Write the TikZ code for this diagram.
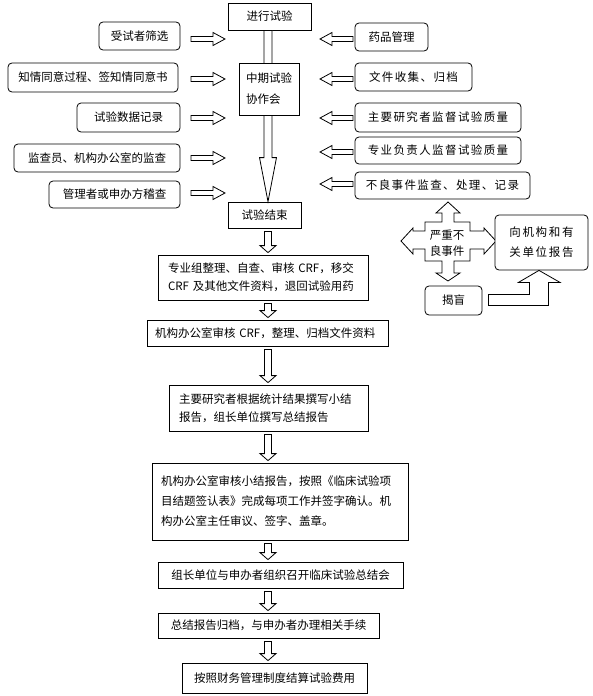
\documentclass[tikz,border=0pt]{standalone}
\usepackage{fontspec}
\setmainfont{Noto Sans CJK SC}
\newfontfamily\widefont[LetterSpace=12]{Noto Sans CJK SC}
\newfontfamily\widerfont[LetterSpace=15]{Noto Sans CJK SC}
\usetikzlibrary{calc}
\tikzset{
  sqbox/.style={draw, line width=0.8pt, fill=white, inner sep=0pt, align=center},
  rbox/.style={draw, line width=0.8pt, fill=white, rounded corners=4pt, inner sep=0pt, align=center},
  blk/.style={draw, line width=0.8pt, fill=white, line join=miter},
  lbox/.style={sqbox, align=left},
  widetext/.style={font=\widefont\fontsize{11.5}{18}\selectfont},
}
\newcommand{\downarr}[2]{%
  \draw[blk] let \p1=(#1.south), \p2=(#2.north), \p3=(colC) in
   (\x3-3.5pt,\y1-3pt) -- (\x3+3.5pt,\y1-3pt) -- (\x3+3.5pt,\y2+9pt) -- (\x3+8pt,\y2+9pt)
   -- (\x3,\y2+2pt) -- (\x3-8pt,\y2+9pt) -- (\x3-3.5pt,\y2+9pt) -- cycle;}
\newcommand{\rarr}[2]{%
  \draw[blk] let \p1=(#1.east), \p2=(colL) in
   (\x2-34pt,\y1-#2pt+2.5pt) -- (\x2-12pt,\y1-#2pt+2.5pt) -- (\x2-12pt,\y1-#2pt+6.5pt)
   -- (\x2,\y1-#2pt) -- (\x2-12pt,\y1-#2pt-6.5pt) -- (\x2-12pt,\y1-#2pt-2.5pt)
   -- (\x2-34pt,\y1-#2pt-2.5pt) -- cycle;}
\newcommand{\larr}[2]{%
  \draw[blk] let \p1=(#1.west), \p2=(colR) in
   (\x2+33pt,\y1-#2pt+2.5pt) -- (\x2+12pt,\y1-#2pt+2.5pt) -- (\x2+12pt,\y1-#2pt+6.5pt)
   -- (\x2,\y1-#2pt) -- (\x2+12pt,\y1-#2pt-6.5pt) -- (\x2+12pt,\y1-#2pt-2.5pt)
   -- (\x2+33pt,\y1-#2pt-2.5pt) -- cycle;}
\begin{document}
\begin{tikzpicture}[x=1pt,y=-1pt,font=\fontsize{11.5}{18}\selectfont]
\useasboundingbox (0,0) rectangle (593,696);
\coordinate (colC) at (268,0);
\coordinate (colL) at (225,0);
\coordinate (colR) at (320,0);

% central column
\node[sqbox, minimum width=83pt, minimum height=27pt] (start) at (269.5,16.5) {进行试验};
\node[sqbox, minimum width=73pt, minimum height=26pt] (end) at (264.5,215) {试验结束};
% big arrow
\draw[blk] let \p1=(start.south), \p2=(end.north), \p3=(colC) in
  (\x3-4pt,\y1) -- (\x3+4pt,\y1) -- (\x3+4pt,\y2+44pt) -- (\x3+8.5pt,\y2+44pt)
  -- (\x3,\y2) -- (\x3-8.5pt,\y2+44pt) -- (\x3-4pt,\y2+44pt) -- cycle;
\node[lbox, text width=46pt, inner xsep=7pt, minimum height=52pt,
      font=\fontsize{11.5}{21}\selectfont] (mid) at (269,89) {中期试验\\协作会};

% left boxes
\node[rbox, minimum width=81pt, minimum height=28pt] (L1) at (139.5,36) {受试者筛选};
\node[rbox, minimum width=170pt, minimum height=29pt] (L2) at (93,77.5) {知情同意过程、签知情同意书};
\node[rbox, minimum width=103pt, minimum height=29pt] (L3) at (128.5,117.5) {试验数据记录};
\node[rbox, minimum width=166pt, minimum height=28pt] (L4) at (97,158) {监查员、机构办公室的监查};
\node[rbox, minimum width=131pt, minimum height=27pt] (L5) at (114.5,194.5) {管理者或申办方稽查};
\rarr{L1}{3}
\rarr{L2}{1.5}
\rarr{L3}{0.5}
\rarr{L4}{0}
\rarr{L5}{-1.5}

% right boxes
\node[rbox, minimum width=73pt, minimum height=28pt] (R1) at (391.5,37) {药品管理};
\node[rbox, widetext, minimum width=117pt, minimum height=28pt] (R2) at (413.5,77) {文件收集、归档};
\node[rbox, widetext, minimum width=166pt, minimum height=29pt] (R3) at (438,117.5) {主要研究者监督试验质量};
\node[rbox, widetext, minimum width=166pt, minimum height=27pt] (R4) at (438,150.5) {专业负责人监督试验质量};
\node[rbox, widetext, minimum width=175pt, minimum height=27pt] (R5) at (442.5,185.5) {不良事件监查、处理、记录};
\larr{R1}{2}
\larr{R2}{2}
\larr{R3}{0.5}
\larr{R4}{1.5}
\larr{R5}{-1.5}

% serious adverse event cross arrow
\draw[blk] (448,202) -- (460,213) -- (454,213) -- (454,222) -- (470,222) -- (470,231)
  -- (484,231) -- (484,228) -- (496,241) -- (484,254) -- (484,249) -- (470,249)
  -- (470,261) -- (454,261) -- (454,273) -- (460,273) -- (448,281) -- (436,273)
  -- (442,273) -- (442,261) -- (425,261) -- (425,249) -- (413,249) -- (413,254)
  -- (401,241) -- (413,228) -- (413,231) -- (425,231) -- (425,222) -- (442,222)
  -- (442,213) -- (436,213) -- cycle;
\node[align=center, inner sep=0pt, font=\fontsize{11.5}{16}\selectfont] (sev) at (447,243) {严重不\\良事件};
\node[rbox, minimum width=93pt, minimum height=55pt, font=\widerfont\fontsize{11.5}{20}\selectfont] (rep) at (541.5,242.5) {向机构和有\\关单位报告};
\node[rbox, minimum width=57pt, minimum height=29pt] (jm) at (453.5,300.5) {揭盲};
\draw[blk] let \p1=(jm.east), \p2=(rep.south) in
  (\x1+6pt,\y1+6pt) -- (\x2-12pt,\y1+6pt) -- (\x2-12pt,\y2-12pt) -- (\x2-23pt,\y2-12pt)
  -- (\x2-2.5pt,\y2) -- (\x2+18.5pt,\y2-12pt) -- (\x2+7pt,\y2-12pt) -- (\x2+7pt,\y1-5pt)
  -- (\x1+6pt,\y1-5pt) -- cycle;

% lower column
\node[lbox, text width=190pt, inner xsep=10pt, minimum height=45pt] (b1) at (263,277.5)
  {专业组整理、自查、审核 CRF，移交\\CRF 及其他文件资料，退回试验用药};
\node[lbox, text width=225pt, inner xsep=8pt, minimum height=26pt] (b2) at (267.5,333)
  {机构办公室审核 CRF，整理、归档文件资料};
\node[lbox, text width=179pt, inner xsep=10pt, minimum height=46pt] (b3) at (268.5,408)
  {主要研究者根据统计结果撰写小结\\报告，组长单位撰写总结报告};
\node[lbox, text width=238pt, inner xsep=9pt, minimum height=77pt, font=\fontsize{11.5}{20}\selectfont] (b4) at (280,501.5)
  {机构办公室审核小结报告，按照《临床试验项\\目结题签认表》完成每项工作并签字确认。机\\构办公室主任审议、签字、盖章。};
\node[sqbox, minimum width=245pt, minimum height=26pt] (b5) at (280.5,575) {组长单位与申办者组织召开临床试验总结会};
\node[sqbox, minimum width=221pt, minimum height=25pt] (b6) at (268.5,625.5) {总结报告归档，与申办者办理相关手续};
\node[sqbox, minimum width=185pt, minimum height=30pt] (b7) at (274.5,678) {按照财务管理制度结算试验费用};

\downarr{end}{b1}
\downarr{b1}{b2}
\downarr{b2}{b3}
\downarr{b3}{b4}
\downarr{b4}{b5}
\downarr{b5}{b6}
\downarr{b6}{b7}
\end{tikzpicture}
\end{document}
